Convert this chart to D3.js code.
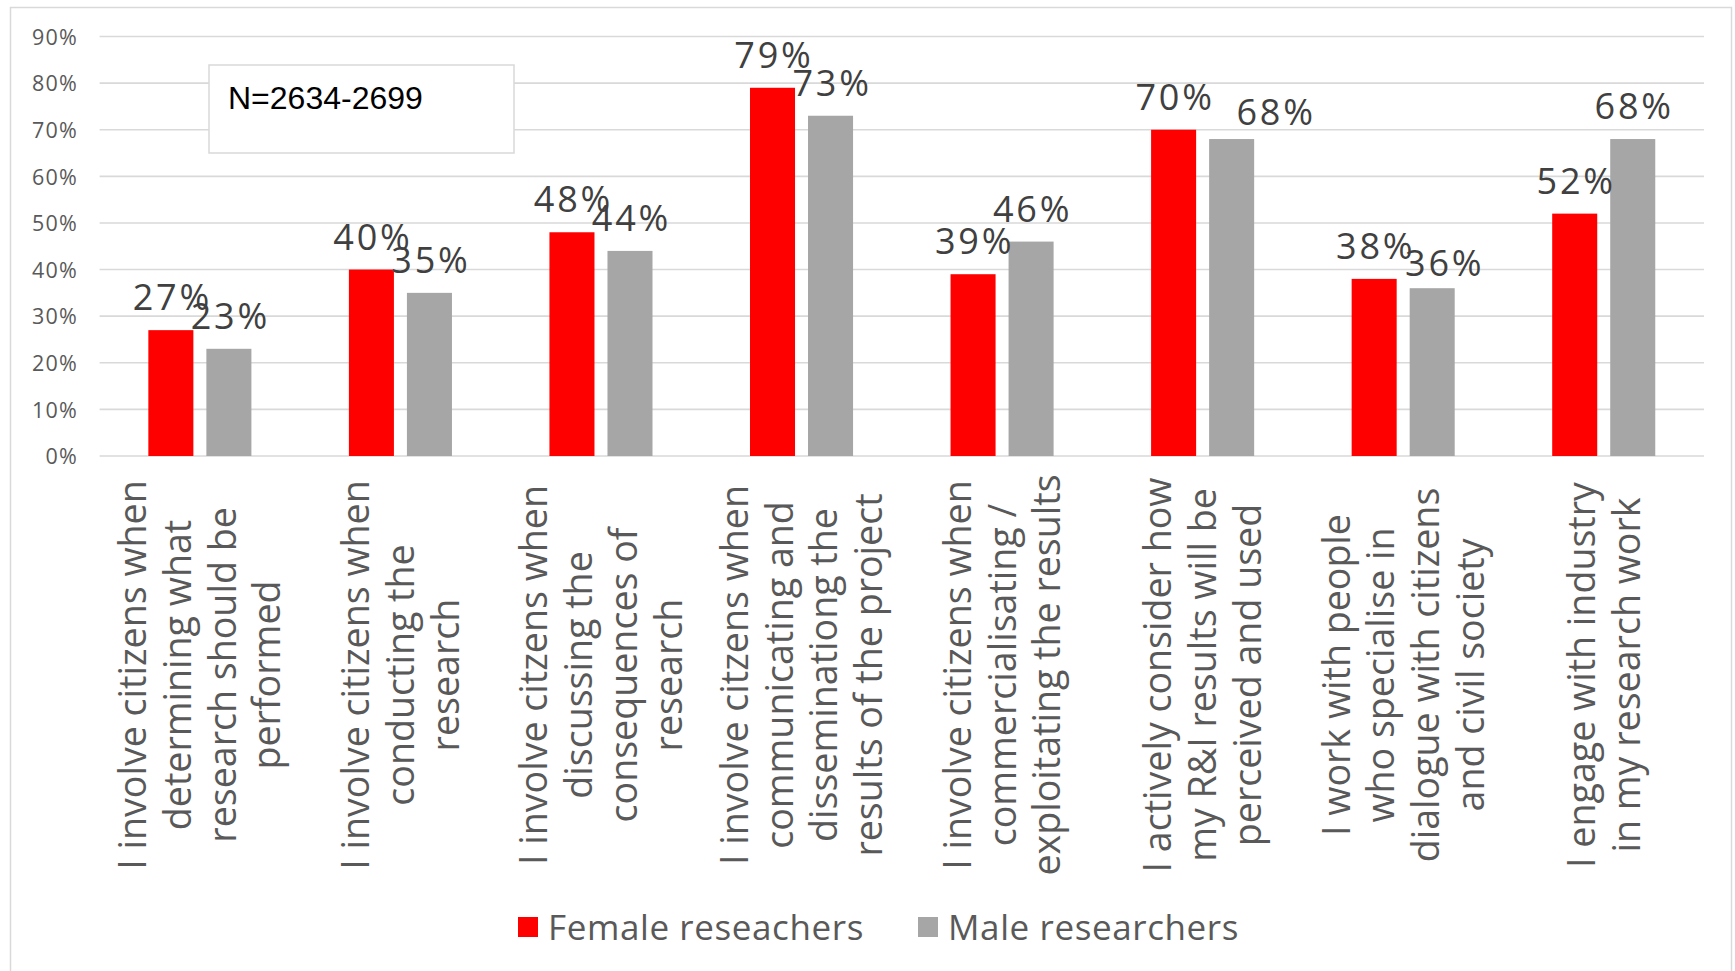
<!DOCTYPE html>
<html>
<head>
<meta charset="utf-8">
<script src="https://cdn.jsdelivr.net/npm/d3@7"></script>
<style>
  html, body { margin: 0; padding: 0; background: #ffffff; }
  svg { display: block; }
</style>
</head>
<body>
<svg id="chart" width="1735" height="971"></svg>
<script>
// ---- DATA ----
const categories = [
  ["I involve citizens when", "determining what", "research should be", "performed"],
  ["I involve citizens when", "conducting the", "research"],
  ["I involve citzens when", "discussing the", "consequences of", "research"],
  ["I involve citzens when", "communicating and", "disseminationg the", "results of the project"],
  ["I involve citizens when", "commercialisating /", "exploitating the results"],
  ["I actively consider how", "my R&I results will be", "perceived and used"],
  ["I work with people", "who specialise in", "dialogue with citizens", "and civil society"],
  ["I engage with industry", "in my research work"]
];
const seriesNames = ["Female reseachers", "Male researchers"];
const femaleValues = [27, 40, 48, 79, 39, 70, 38, 52];
const maleValues = [23, 35, 44, 73, 46, 68, 36, 68];
const yTicks = [0, 10, 20, 30, 40, 50, 60, 70, 80, 90];
const noteText = "N=2634-2699";
const colors = ["#ff0000", "#a6a6a6"];

// ---- LAYOUT ----
const svg = d3.select("#chart");
const plot = { left: 99.6, right: 1704, top: 36.5, bottom: 456 };
const FONT = "'Open Sans', 'Noto Sans', sans-serif";

// outer chart border
svg.append("rect")
  .attr("x", 10.5).attr("y", 7.5)
  .attr("width", 1721).attr("height", 990)
  .attr("fill", "none").attr("stroke", "#d9d9d9").attr("stroke-width", 1.5);

const y = d3.scaleLinear().domain([0, 90]).range([plot.bottom, plot.top]);
const x0 = d3.scaleBand().domain(d3.range(categories.length))
  .range([plot.left, plot.right]).paddingInner(0).paddingOuter(0);
const x1 = d3.scaleBand().domain([0, 1])
  .range([0, x0.bandwidth()]).paddingInner(0.224).paddingOuter(0.84);

// gridlines
svg.append("g").selectAll("line").data(yTicks).join("line")
  .attr("x1", plot.left).attr("x2", plot.right)
  .attr("y1", d => y(d)).attr("y2", d => y(d))
  .attr("stroke", "#d9d9d9").attr("stroke-width", 1.6);

// y axis labels
const yAxis = d3.axisLeft(y).tickValues(yTicks).tickFormat(d => d + "%").tickSize(0).tickPadding(0);
const gy = svg.append("g").attr("transform", "translate(78,0)").call(yAxis);
gy.select(".domain").remove();
gy.selectAll("text")
  .attr("font-family", FONT).attr("font-size", 21.5)
  .attr("letter-spacing", "1.2px")
  .attr("fill", "#595959").attr("dy", "0.36em");

// note box
const noteG = svg.append("g");
noteG.append("rect")
  .attr("x", 209).attr("y", 65).attr("width", 305).attr("height", 88)
  .attr("fill", "#ffffff").attr("stroke", "#d9d9d9").attr("stroke-width", 1.5);
noteG.append("text")
  .attr("x", 228).attr("y", 109)
  .attr("font-family", "'Liberation Sans', Arial, sans-serif")
  .attr("font-size", 32).attr("fill", "#000000")
  .text(noteText);

// bars
const rows = categories.map((c, i) => [femaleValues[i], maleValues[i]]);
const groups = svg.append("g").selectAll("g").data(rows).join("g")
  .attr("transform", (d, i) => `translate(${x0(i)},0)`);
groups.selectAll("rect").data(d => d).join("rect")
  .attr("x", (d, j) => x1(j))
  .attr("width", x1.bandwidth())
  .attr("y", d => y(d))
  .attr("height", d => y(0) - y(d))
  .attr("fill", (d, j) => colors[j]);

// data labels (a couple of labels were nudged in the original to avoid overlap)
const labelNudge = { "5-1": [43, 6], "6-1": [11, 8] };
groups.each(function(row, i) {
  d3.select(this).selectAll("text").data(row).join("text")
    .attr("x", (d, j) => x1(j) + x1.bandwidth() / 2 + 1.5 + (labelNudge[i + "-" + j] || [0, 0])[0])
    .attr("y", (d, j) => y(d) - 20 + (labelNudge[i + "-" + j] || [0, 0])[1])
    .attr("text-anchor", "middle")
    .attr("font-family", FONT).attr("font-size", 36)
    .attr("letter-spacing", "2.8px")
    .attr("fill", "#404040")
    .text(d => d + "%");
});

// category labels (rotated, multi-line, centered)
const lineH = 44.7;
const labelCenterY = 675;
const catG = svg.append("g").selectAll("g").data(categories).join("g")
  .attr("transform", (d, i) => `translate(${x0(i) + x0.bandwidth() / 2},${labelCenterY}) rotate(-90)`);
catG.each(function(lines) {
  const g = d3.select(this);
  const n = lines.length;
  g.selectAll("text").data(lines).join("text")
    .attr("x", 0)
    .attr("y", (d, k) => (k - (n - 1) / 2) * lineH)
    .attr("dy", "0.36em")
    .attr("text-anchor", "middle")
    .attr("font-family", FONT).attr("font-size", 37.6)
    .attr("fill", "#595959")
    .text(d => d);
});

// legend
const legend = svg.append("g");
const legendItems = [
  { name: seriesNames[0], color: colors[0], x: 518 },
  { name: seriesNames[1], color: colors[1], x: 918 }
];
const legY = 927;
const li = legend.selectAll("g").data(legendItems).join("g")
  .attr("transform", d => `translate(${d.x},${legY})`);
li.append("rect").attr("x", 0).attr("y", -10).attr("width", 20).attr("height", 20)
  .attr("fill", d => d.color);
li.append("text").attr("x", 30).attr("y", 0).attr("dy", "0.36em")
  .attr("font-family", FONT).attr("font-size", 35).attr("letter-spacing", "0.6px")
  .attr("fill", "#595959")
  .text(d => d.name);
</script>
</body>
</html>
